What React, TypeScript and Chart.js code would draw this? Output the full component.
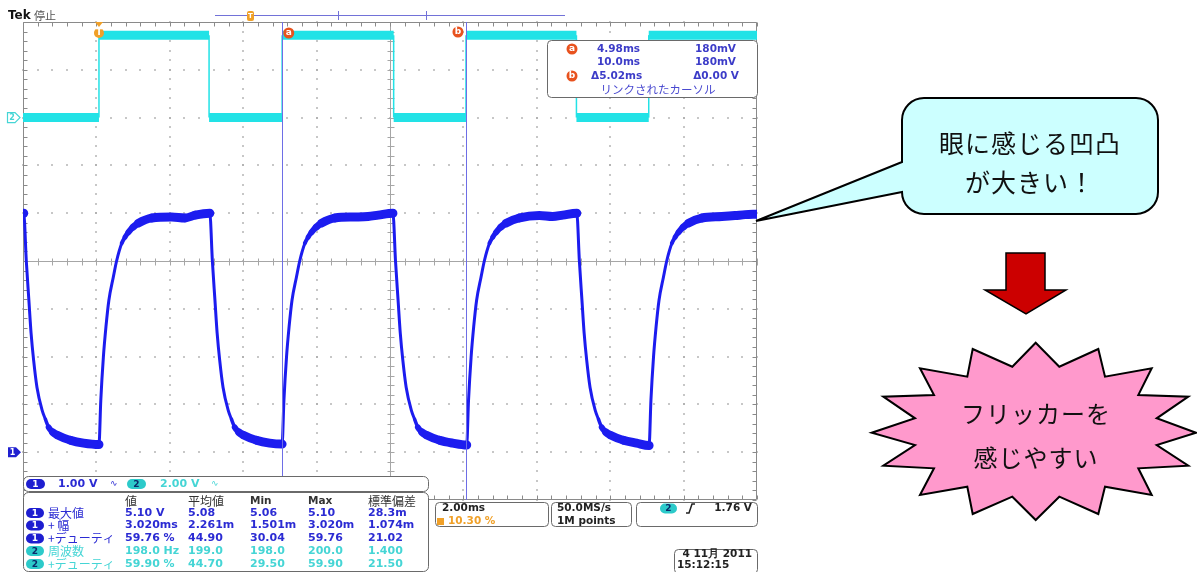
import React, { useEffect, useRef } from 'react';
import { Chart, registerables } from 'chart.js';

Chart.register(...registerables);

// ---- axes (oscilloscope settings) ----
const timeMin = -2.07; // ms at left edge of graticule (trigger at 10.30 %)
const timeMax = 17.93;
const timePerDiv = 2; // 2.00ms/div
const ch1Min = -1;
const ch1Max = 9; // 1.00 V/div
const ch2Min = -16;
const ch2Max = 4; // 2.00 V/div

// ---- channel 1 (blue) waveform: time (ms) / volts ----
const ch1Times = [
  -2.07, -2.05, -1.98, -1.91, -1.85, -1.78, -1.69, -1.55, -1.46, -1.37, -1.26, -1.14, -0.78, -0.42,
  0.0, 0.05, 0.12, 0.19, 0.27, 0.39, 0.48, 0.62, 0.71, 0.8, 0.93, 1.07, 1.44, 1.98, 2.34, 2.62,
  3.02, 3.09, 3.16, 3.22, 3.29, 3.38, 3.52, 3.61, 3.7, 3.81, 3.93, 4.29, 4.65,
  4.99, 5.04, 5.11, 5.18, 5.26, 5.38, 5.47, 5.61, 5.7, 5.79, 5.92, 6.06, 6.43, 6.97, 7.33, 7.61,
  8.01, 8.08, 8.15, 8.21, 8.28, 8.37, 8.51, 8.6, 8.69, 8.8, 8.92, 9.28, 9.64,
  10.02, 10.07, 10.14, 10.21, 10.29, 10.41, 10.5, 10.64, 10.73, 10.82, 10.95, 11.09, 11.46, 12.0, 12.36, 12.64,
  13.02, 13.09, 13.16, 13.22, 13.29, 13.38, 13.52, 13.61, 13.7, 13.81, 13.93, 14.29, 14.65,
  14.99, 15.04, 15.11, 15.18, 15.26, 15.38, 15.47, 15.61, 15.7, 15.79, 15.92, 16.06, 16.43, 16.97, 17.33, 17.61, 17.93,
];
const ch1Volts = [
  5.0, 5.0, 4.0, 3.18, 2.49, 1.92, 1.36, 0.88, 0.69, 0.52, 0.42, 0.36, 0.25, 0.19,
  0.16, 1.09, 1.99, 2.62, 3.18, 3.66, 4.0, 4.37, 4.5, 4.6, 4.71, 4.79, 4.9, 4.92, 4.9, 4.96,
  5.0, 4.0, 3.18, 2.49, 1.92, 1.36, 0.88, 0.69, 0.52, 0.42, 0.36, 0.25, 0.19,
  0.17, 1.09, 1.99, 2.62, 3.18, 3.66, 4.0, 4.37, 4.5, 4.6, 4.71, 4.79, 4.9, 4.92, 4.93, 4.96,
  5.0, 4.0, 3.18, 2.49, 1.92, 1.36, 0.88, 0.69, 0.52, 0.42, 0.36, 0.25, 0.19,
  0.15, 1.09, 1.99, 2.62, 3.18, 3.66, 4.0, 4.37, 4.5, 4.6, 4.71, 4.79, 4.9, 4.95, 4.93, 4.96,
  5.0, 4.0, 3.18, 2.49, 1.92, 1.36, 0.88, 0.69, 0.52, 0.42, 0.36, 0.25, 0.19,
  0.14, 1.09, 1.99, 2.62, 3.18, 3.66, 4.0, 4.37, 4.5, 4.6, 4.71, 4.79, 4.9, 4.93, 4.95, 4.97, 4.98,
];

// ---- channel 2 (cyan) drive signal ----
const ch2Times = [-2.07, 0, 0, 3.0, 3.0, 4.99, 4.99, 8.03, 8.03, 10.0, 10.0, 13.01, 13.01, 14.98, 14.98, 17.93];
const ch2Volts = [0, 0, 3.45, 3.45, 0, 0, 3.45, 3.45, 0, 0, 3.45, 3.45, 0, 0, 3.45, 3.45];

// ---- cursors ----
const cursorTimes = [4.98, 10.0];
const cursorNames = ['a', 'b'];
const triggerTime = 0;
const cursorRow1 = ['4.98ms', '180mV'];
const cursorRow2 = ['10.0ms', '180mV'];
const cursorRow3 = ['Δ5.02ms', 'Δ0.00 V'];
const cursorCaption = 'リンクされたカーソル';

// ---- measurement table ----
const measureHeaders = ['値', '平均値', 'Min', 'Max', '標準偏差'];
const measureChannels = [1, 1, 1, 2, 2];
const measureNames = ['最大値', '+ 幅', '+デューティ', '周波数', '+デューティ'];
const measureValue = ['5.10 V', '3.020ms', '59.76 %', '198.0 Hz', '59.90 %'];
const measureMean = ['5.08', '2.261m', '44.90', '199.0', '44.70'];
const measureMin = ['5.06', '1.501m', '30.04', '198.0', '29.50'];
const measureMax = ['5.10', '3.020m', '59.76', '200.0', '59.90'];
const measureStd = ['28.3m', '1.074m', '21.02', '1.400', '21.50'];

// ---- status texts ----
const ch1ScaleText = '1.00 V';
const ch2ScaleText = '2.00 V';
const timebaseText = '2.00ms';
const triggerPosText = '10.30 %';
const sampleRateText = '50.0MS/s';
const recordText = '1M points';
const triggerLevelText = '1.76 V';
const dateText = '4 11月 2011';
const clockText = '15:12:15';
const titleBrand = 'Tek';
const titleState = '停止';

// ---- annotations ----
const bubbleLines = ['眼に感じる凹凸', 'が大きい！'];
const starLines = ['フリッカーを', '感じやすい'];

const SCOPE = '"DejaVu Sans", Verdana, sans-serif';
const JP = '"Noto Sans CJK JP", "Noto Sans", sans-serif';
const C1 = '#2b2bd3';
const C2 = '#45d5d5';
const CUR = '#e8521e';

function txt(ctx: CanvasRenderingContext2D, s: string, x: number, y: number, font: string, color: string, align: CanvasTextAlign = 'left') {
  ctx.font = font;
  ctx.fillStyle = color;
  ctx.textAlign = align;
  ctx.textBaseline = 'middle';
  ctx.fillText(s, x, y);
}

function pill(ctx: CanvasRenderingContext2D, x: number, cy: number, w: number, h: number, fill: string, label: string, labelColor: string) {
  ctx.beginPath();
  ctx.roundRect(x, cy - h / 2, w, h, h / 2);
  ctx.fillStyle = fill;
  ctx.fill();
  txt(ctx, label, x + w / 2, cy + 0.5, 'bold 9px ' + SCOPE, labelColor, 'center');
}

function disc(ctx: CanvasRenderingContext2D, cx: number, cy: number, r: number, fill: string, label: string) {
  ctx.beginPath();
  ctx.arc(cx, cy, r, 0, Math.PI * 2);
  ctx.fillStyle = fill;
  ctx.fill();
  txt(ctx, label, cx, cy, 'bold 9px ' + SCOPE, '#fff', 'center');
}

function panel(ctx: CanvasRenderingContext2D, x: number, y: number, w: number, h: number, r: number) {
  ctx.beginPath();
  ctx.roundRect(x + 0.5, y + 0.5, w, h, r);
  ctx.fillStyle = '#fff';
  ctx.fill();
  ctx.strokeStyle = '#6a6a6a';
  ctx.lineWidth = 1;
  ctx.stroke();
}

const gridPlugin = {
  id: 'scopeGrid',
  beforeDraw(chart: any) {
    const ctx = chart.ctx;
    ctx.save();
    ctx.fillStyle = '#ffffff';
    ctx.fillRect(0, 0, chart.width, chart.height);
    ctx.restore();
  },
  beforeDatasetsDraw(chart: any) {
    const { ctx, chartArea } = chart;
    const { left, right, top, bottom } = chartArea;
    const xs = chart.scales.x;
    const ys = chart.scales.y;
    const vx: number[] = [];
    const hy: number[] = [];
    for (let k = 0; k <= 10; k++) vx.push(xs.getPixelForValue(timeMin + k * timePerDiv));
    for (let k = 0; k <= 10; k++) hy.push(ys.getPixelForValue(ch1Min + k));
    const stepY = (bottom - top) / 50;
    const stepX = (right - left) / 50;
    ctx.save();
    ctx.fillStyle = '#a8a8a8';
    for (let k = 1; k < 10; k++) {
      if (k === 5) continue;
      for (let j = 0; j <= 50; j++) {
        ctx.fillRect(Math.round(vx[k]) - 0.8, Math.round(top + j * stepY) - 0.8, 1.6, 1.6);
        ctx.fillRect(Math.round(left + j * stepX) - 0.8, Math.round(hy[k]) - 0.8, 1.6, 1.6);
      }
    }
    const cx = Math.round(vx[5]) + 0.5;
    const cy = Math.round(hy[5]) + 0.5;
    ctx.strokeStyle = '#a6a6a6';
    ctx.lineWidth = 1;
    ctx.beginPath();
    ctx.moveTo(cx, top);
    ctx.lineTo(cx, bottom);
    ctx.moveTo(left, cy);
    ctx.lineTo(right, cy);
    for (let j = 0; j <= 50; j++) {
      const y = Math.round(top + j * stepY) + 0.5;
      ctx.moveTo(cx - 3, y);
      ctx.lineTo(cx + 4, y);
      const x = Math.round(left + j * stepX) + 0.5;
      ctx.moveTo(x, cy - 3);
      ctx.lineTo(x, cy + 4);
    }
    ctx.stroke();
    ctx.strokeStyle = '#8a8a8a';
    ctx.beginPath();
    const L = Math.round(left) + 0.5;
    const T = Math.round(top) + 0.5;
    const R = Math.round(right) - 0.5;
    const B = Math.round(bottom) - 0.5;
    ctx.rect(L, T, R - L, B - T);
    for (let j = 0; j <= 50; j++) {
      const x = Math.round(left + j * stepX) + 0.5;
      const y = Math.round(top + j * stepY) + 0.5;
      ctx.moveTo(x, T);
      ctx.lineTo(x, T + 4);
      ctx.moveTo(x, B);
      ctx.lineTo(x, B - 4);
      ctx.moveTo(L, y);
      ctx.lineTo(L + 4, y);
      ctx.moveTo(R, y);
      ctx.lineTo(R - 4, y);
    }
    ctx.stroke();
    ctx.restore();
  },
};

const overlayPlugin = {
  id: 'scopeOverlay',
  afterDatasetsDraw(chart: any) {
    const { ctx, chartArea } = chart;
    const xs = chart.scales.x;
    ctx.save();
    ctx.strokeStyle = '#6e6ee6';
    ctx.lineWidth = 1;
    cursorTimes.forEach((t) => {
      const x = Math.round(xs.getPixelForValue(t)) + 0.5;
      ctx.beginPath();
      ctx.moveTo(x, chartArea.top);
      ctx.lineTo(x, chartArea.bottom);
      ctx.stroke();
    });
    ctx.restore();
  },
  afterDraw(chart: any) {
    const { ctx, chartArea } = chart;
    const xs = chart.scales.x;
    const ys = chart.scales.y;
    const ys2 = chart.scales.y2;
    ctx.save();

    // title
    txt(ctx, titleBrand, 8, 16, 'bold 12px ' + SCOPE, '#111', 'left');
    txt(ctx, titleState, 34, 16, '11px ' + JP, '#555', 'left');

    // record bar
    ctx.strokeStyle = '#7272d8';
    ctx.lineWidth = 1;
    ctx.beginPath();
    ctx.moveTo(215, 15.5);
    ctx.lineTo(565, 15.5);
    ctx.moveTo(338.5, 11);
    ctx.lineTo(338.5, 20);
    ctx.moveTo(426.5, 11);
    ctx.lineTo(426.5, 20);
    ctx.stroke();
    ctx.fillStyle = '#f0a028';
    ctx.beginPath();
    ctx.roundRect(247, 11, 7, 10, 2);
    ctx.fill();
    txt(ctx, 'T', 250.5, 16, 'bold 7px ' + SCOPE, '#fff', 'center');

    // trigger marker
    const tx = xs.getPixelForValue(triggerTime);
    ctx.fillStyle = '#f0a028';
    ctx.beginPath();
    ctx.moveTo(tx - 4, chartArea.top);
    ctx.lineTo(tx + 4, chartArea.top);
    ctx.lineTo(tx, chartArea.top + 5);
    ctx.closePath();
    ctx.fill();
    disc(ctx, tx, 33, 5, '#f0a028', 'T');

    // cursor markers
    disc(ctx, xs.getPixelForValue(cursorTimes[0]) + 7, 33, 5.5, CUR, cursorNames[0]);
    disc(ctx, xs.getPixelForValue(cursorTimes[1]) - 8, 32, 5.5, CUR, cursorNames[1]);

    // channel ground markers
    const g2 = ys2.getPixelForValue(0);
    ctx.beginPath();
    ctx.moveTo(7.5, g2 - 5);
    ctx.lineTo(15, g2 - 5);
    ctx.lineTo(20, g2);
    ctx.lineTo(15, g2 + 5);
    ctx.lineTo(7.5, g2 + 5);
    ctx.closePath();
    ctx.fillStyle = '#fff';
    ctx.fill();
    ctx.strokeStyle = C2;
    ctx.lineWidth = 1.2;
    ctx.stroke();
    txt(ctx, '2', 12, g2 + 0.5, 'bold 8px ' + SCOPE, C2, 'center');
    const g1 = ys.getPixelForValue(0);
    ctx.beginPath();
    ctx.moveTo(8, g1 - 5);
    ctx.lineTo(16, g1 - 5);
    ctx.lineTo(21, g1);
    ctx.lineTo(16, g1 + 5);
    ctx.lineTo(8, g1 + 5);
    ctx.closePath();
    ctx.fillStyle = '#2020d0';
    ctx.fill();
    txt(ctx, '1', 12.5, g1 + 0.5, 'bold 8px ' + SCOPE, '#fff', 'center');

    // cursor readout
    panel(ctx, 547, 40, 210, 57, 4);
    const F = 'bold 10.5px ' + SCOPE;
    const CB = '#3c3cc8';
    disc(ctx, 572, 49, 5.5, CUR, cursorNames[0]);
    txt(ctx, cursorRow1[0], 597, 49.5, F, CB);
    txt(ctx, cursorRow1[1], 736, 49.5, F, CB, 'right');
    txt(ctx, cursorRow2[0], 597, 62.5, F, CB);
    txt(ctx, cursorRow2[1], 736, 62.5, F, CB, 'right');
    disc(ctx, 572, 76, 5.5, CUR, cursorNames[1]);
    txt(ctx, cursorRow3[0], 591, 76.5, F, CB);
    txt(ctx, cursorRow3[1], 739, 76.5, F, CB, 'right');
    txt(ctx, cursorCaption, 658, 89.5, '11.5px ' + JP, '#4a4ad0', 'center');

    // channel status strip
    panel(ctx, 23, 476, 405, 15, 5);
    pill(ctx, 26, 484, 19, 10, '#1e1ed0', '1', '#fff');
    txt(ctx, ch1ScaleText, 58, 484, 'bold 11px ' + SCOPE, C1);
    txt(ctx, '∿', 110, 484, '9px ' + SCOPE, C1);
    pill(ctx, 127, 484, 19, 10, '#2ccaca', '2', '#0a2a6a');
    txt(ctx, ch2ScaleText, 160, 484, 'bold 11px ' + SCOPE, C2);
    txt(ctx, '∿', 211, 484, '9px ' + SCOPE, C2);

    // measurement table
    panel(ctx, 23, 492, 405, 79, 5);
    const colX = [125, 188, 250, 308, 368];
    measureHeaders.forEach((h, i) => {
      const ascii = /^[A-Za-z]+$/.test(h);
      txt(ctx, h, colX[i], 501, ascii ? 'bold 10.5px ' + SCOPE : '12px ' + JP, '#333', 'left');
    });
    const rowY = [513, 525.5, 538.5, 551, 564];
    const VF = 'bold 11px ' + SCOPE;
    measureNames.forEach((name, i) => {
      const ch = measureChannels[i];
      const col = ch === 1 ? C1 : C2;
      const y = rowY[i];
      if (ch === 1) pill(ctx, 26, y, 18, 10, '#1e1ed0', '1', '#fff');
      else pill(ctx, 26, y, 18, 10, '#2ccaca', '2', '#0a2a6a');
      txt(ctx, name, 48, y, '12px ' + JP, col);
      txt(ctx, measureValue[i], colX[0], y, VF, col);
      txt(ctx, measureMean[i], colX[1], y, VF, col);
      txt(ctx, measureMin[i], colX[2], y, VF, col);
      txt(ctx, measureMax[i], colX[3], y, VF, col);
      txt(ctx, measureStd[i], colX[4], y, VF, col);
    });

    // horizontal / acquisition / trigger panels
    const BF = 'bold 10.5px ' + SCOPE;
    panel(ctx, 435, 502, 113, 24, 4);
    txt(ctx, timebaseText, 442, 508.5, BF, '#222');
    ctx.fillStyle = '#f0a028';
    ctx.fillRect(437, 518, 7, 7);
    txt(ctx, triggerPosText, 448, 521.5, BF, '#f0a028');
    panel(ctx, 551, 502, 80, 24, 4);
    txt(ctx, sampleRateText, 557, 508.5, BF, '#222');
    txt(ctx, recordText, 557, 521.5, BF, '#222');
    panel(ctx, 636, 502, 121, 24, 4);
    pill(ctx, 660, 508.5, 17, 10, '#2ccaca', '2', '#0a2a6a');
    ctx.strokeStyle = '#222';
    ctx.lineWidth = 1.5;
    ctx.beginPath();
    ctx.moveTo(686, 513);
    ctx.lineTo(689, 513);
    ctx.lineTo(692, 504);
    ctx.lineTo(695, 504);
    ctx.stroke();
    txt(ctx, triggerLevelText, 752, 508.5, BF, '#222', 'right');
    panel(ctx, 674, 549, 83, 24, 4);
    txt(ctx, dateText, 752, 554.5, BF, '#222', 'right');
    txt(ctx, clockText, 677, 565.5, BF, '#222');

    // speech bubble
    const bx = 902, by = 98, bw = 256, bh = 116, r = 22;
    ctx.beginPath();
    ctx.moveTo(bx + r, by);
    ctx.lineTo(bx + bw - r, by);
    ctx.arcTo(bx + bw, by, bx + bw, by + r, r);
    ctx.lineTo(bx + bw, by + bh - r);
    ctx.arcTo(bx + bw, by + bh, bx + bw - r, by + bh, r);
    ctx.lineTo(bx + r, by + bh);
    ctx.arcTo(bx, by + bh, bx, by + bh - r, r);
    ctx.lineTo(bx, 192);
    ctx.lineTo(756, 221);
    ctx.lineTo(bx, 162);
    ctx.lineTo(bx, by + r);
    ctx.arcTo(bx, by, bx + r, by, r);
    ctx.closePath();
    ctx.fillStyle = '#ccffff';
    ctx.fill();
    ctx.strokeStyle = '#000';
    ctx.lineWidth = 2;
    ctx.lineJoin = 'miter';
    ctx.stroke();
    (ctx as any).letterSpacing = '1px';
    txt(ctx, bubbleLines[0], 1030, 143, '25px ' + JP, '#111', 'center');
    txt(ctx, bubbleLines[1], 1030, 182, '25px ' + JP, '#111', 'center');
    (ctx as any).letterSpacing = '0px';

    // red arrow
    ctx.beginPath();
    ctx.moveTo(1006, 253);
    ctx.lineTo(1045, 253);
    ctx.lineTo(1045, 290);
    ctx.lineTo(1066, 290);
    ctx.lineTo(1026, 314);
    ctx.lineTo(985, 290);
    ctx.lineTo(1006, 290);
    ctx.closePath();
    ctx.fillStyle = '#cc0000';
    ctx.fill();
    ctx.lineWidth = 1.5;
    ctx.strokeStyle = '#000';
    ctx.stroke();

    // explosion star
    const star = [
      [1035.7, 342.7], [1059.3, 366.7], [1098.3, 349], [1105, 376.7], [1151.7, 368.3], [1138.3, 395],
      [1188.3, 396.7], [1156.7, 418.3], [1196, 432.7], [1156.7, 445], [1188.3, 465.7], [1138.3, 468.3],
      [1151.7, 495], [1105, 486.7], [1098.3, 514], [1059.3, 496.7], [1035.7, 520], [1012.3, 496.7],
      [972.7, 514], [967.3, 486.7], [920, 495], [934, 468.3], [883.3, 465.7], [915, 445],
      [871.7, 432.7], [915, 418.3], [883.3, 396.7], [934, 395], [920, 368.3], [967.3, 376.7],
      [972.7, 349], [1012.3, 366.7],
    ];
    ctx.beginPath();
    star.forEach(([x, y], i) => (i === 0 ? ctx.moveTo(x, y) : ctx.lineTo(x, y)));
    ctx.closePath();
    ctx.fillStyle = '#ff99cc';
    ctx.fill();
    ctx.lineWidth = 2;
    ctx.strokeStyle = '#000';
    ctx.stroke();
    (ctx as any).letterSpacing = '1px';
    txt(ctx, starLines[0], 1036, 414, '24px ' + JP, '#111', 'center');
    txt(ctx, starLines[1], 1036, 458, '24px ' + JP, '#111', 'center');
    (ctx as any).letterSpacing = '0px';

    ctx.restore();
  },
};

export default function App() {
  const canvasRef = useRef<HTMLCanvasElement | null>(null);

  useEffect(() => {
    const canvas = canvasRef.current;
    if (!canvas) return;
    const ch1Data = ch1Times.map((t, i) => ({ x: t, y: ch1Volts[i] }));
    const ch2Data = ch2Times.map((t, i) => ({ x: t, y: ch2Volts[i] }));
    const chart = new Chart(canvas, {
      type: 'line',
      data: {
        datasets: [
          {
            label: 'CH1',
            data: ch1Data,
            yAxisID: 'y',
            borderColor: '#1c1cef',
            borderWidth: 9,
            pointRadius: 0,
            cubicInterpolationMode: 'monotone',
            borderCapStyle: 'round',
            borderJoinStyle: 'round',
            segment: {
              borderWidth: (c: any) => {
                const dx = Math.abs(c.p1.x - c.p0.x);
                const dy = Math.abs(c.p1.y - c.p0.y);
                const s = dy / Math.max(dx, 0.01);
                return Math.max(3, Math.round((9 / Math.sqrt(1 + s * s)) * 2) / 2);
              },
            },
          },
          {
            label: 'CH2',
            data: ch2Data,
            yAxisID: 'y2',
            borderColor: '#22e2e6',
            borderWidth: 9,
            pointRadius: 0,
            tension: 0,
            borderCapStyle: 'butt',
            segment: {
              borderWidth: (c: any) => (Math.abs(c.p0.x - c.p1.x) < 0.5 ? 1.5 : 9),
            },
          },
        ],
      },
      options: {
        animation: false,
        responsive: false,
        devicePixelRatio: 1,
        events: [],
        layout: { padding: { left: 23, top: 22, right: 440, bottom: 72 } },
        scales: {
          x: { type: 'linear', min: timeMin, max: timeMax, display: false },
          y: { type: 'linear', min: ch1Min, max: ch1Max, display: false },
          y2: { type: 'linear', min: ch2Min, max: ch2Max, display: false },
        },
        plugins: { legend: { display: false }, tooltip: { enabled: false } },
      },
      plugins: [gridPlugin, overlayPlugin],
    } as any);
    return () => chart.destroy();
  }, []);

  return (
    <div style={{ position: 'fixed', left: 0, top: 0, width: 1197, height: 572, background: '#fff' }}>
      <canvas ref={canvasRef} width={1197} height={572} style={{ display: 'block' }} />
    </div>
  );
}
